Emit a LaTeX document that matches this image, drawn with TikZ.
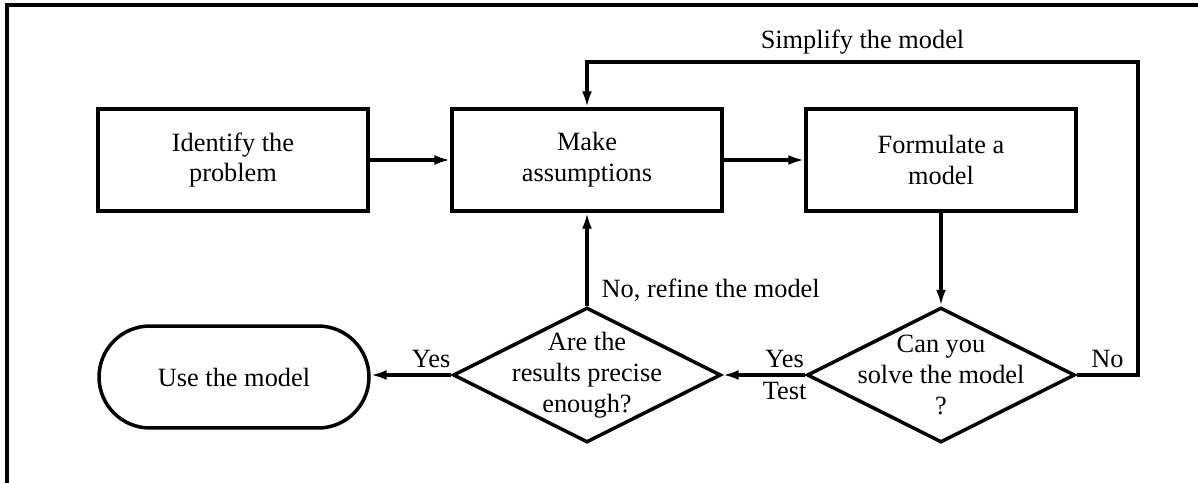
\documentclass[tikz,border=0pt]{standalone}
\usepackage{fontspec}
\setmainfont{Liberation Serif}
\usetikzlibrary{shapes.geometric,shapes.misc,arrows.meta}

\begin{document}
\begin{tikzpicture}[x=0.02cm, y=-0.02cm,
            font=\fontsize{15}{17.6}\selectfont,
            line width=2pt,
            box/.style={draw, rectangle, minimum width=5.4cm, minimum height=2.04cm, inner sep=0pt, align=center},
            choice/.style={draw, diamond, minimum width=5.36cm, minimum height=2.7cm, inner sep=0pt},
            terminal/.style={draw, rounded rectangle, minimum width=5.4cm, minimum height=2.04cm, inner sep=0pt},
            flow/.style={-{Latex[length=3.2mm,width=2mm]}}]

            \useasboundingbox (0,0) rectangle (1198,483);
            \draw (7,483) -- (7,5) -- (1198,5);

            \node[box] (ident) at (233,160) {Identify the\\problem};
            \node[box] (assume) at (587,160) {Make\\assumptions};
            \node[box] (formul) at (941,160) {Formulate a\\model};
            \node[choice, label={[align=center]center:Can you\\solve the model\\?}] (solve) at (941,375) {};
            \node[choice, label={[align=center]center:Are the\\results precise\\enough?}] (precise) at (587,375) {};
            \node[terminal] (use) at (234,377) {Use the model};

            \coordinate (c1) at (1138,375);
            \coordinate (c2) at (1138,62);
            \coordinate (c3) at (587,62);

            \draw[flow] (ident) -- (assume);
            \draw[flow] (assume) -- (formul);
            \draw[flow] (formul) -- (solve);
            \draw[flow] (solve) -- node[above, pos=.25] (yes2) {Yes} node[below, pos=.25] (test) {Test} (precise);
            \draw[flow] (precise.west) -- node[above, pos=.25] (yes1) {Yes} (use.east |- precise.west);
            \draw[flow] (precise) -- node[right, pos=.17, xshift=4pt] (refine) {No, refine the model} (assume);
            \draw[flow] (solve.east) -- node[above] (no) {No} (c1) -- (c2)
                -- node[above] (simp) {Simplify the model} (c3) -- (assume.north);
\end{tikzpicture}
\end{document}
